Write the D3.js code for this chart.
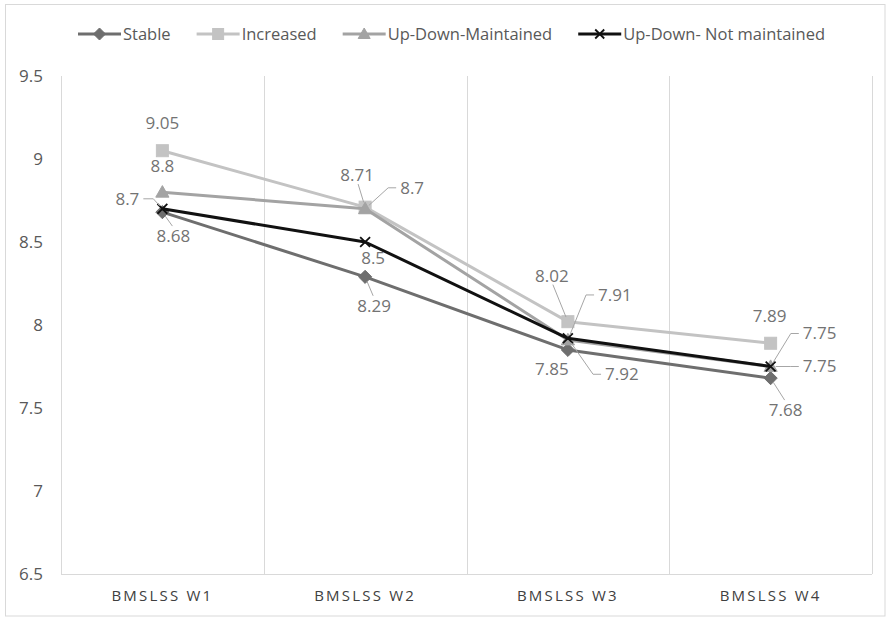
<!DOCTYPE html>
<html>
<head>
<meta charset="utf-8">
<script src="https://cdn.jsdelivr.net/npm/d3@7"></script>
<style>
  html, body { margin: 0; padding: 0; background: #fff; }
  svg { display: block; }
  text { font-family: "Open Sans", "DejaVu Sans", sans-serif; }
</style>
</head>
<body>
<svg id="chart" width="891" height="619"></svg>
<script>
// Waves of the BMSLSS survey
const categories = ["BMSLSS W1", "BMSLSS W2", "BMSLSS W3", "BMSLSS W4"];

// Mean scores per trajectory group
const stable = [8.68, 8.29, 7.85, 7.68];
const increased = [9.05, 8.71, 8.02, 7.89];
const upDownMaintained = [8.8, 8.7, 7.91, 7.75];
const upDownNotMaintained = [8.7, 8.5, 7.92, 7.75];

const seriesNames = ["Stable", "Increased", "Up-Down-Maintained", "Up-Down- Not maintained"];
const yTicks = [6.5, 7, 7.5, 8, 8.5, 9, 9.5];

// Appearance of each group: line colour and marker shape
const styles = [
  { color: "#6e6e6e", marker: "diamond" },
  { color: "#c3c3c3", marker: "square" },
  { color: "#a3a3a3", marker: "triangle" },
  { color: "#111111", marker: "cross" }
];

// Where each value label sits relative to its point, and how it is tied back
const labelPlacement = [
  [{dx: 11, dy: 24, leader: "v"}, {dx: 9, dy: 29, leader: "v"}, {dx: -16, dy: 19, leader: "none"}, {dx: 15, dy: 32, leader: "v"}],
  [{dx: 0, dy: -28, leader: "none"}, {dx: -8, dy: -32, leader: "v"}, {dx: -16, dy: -46, leader: "v"}, {dx: -1, dy: -27, leader: "none"}],
  [{dx: 0, dy: -26, leader: "none"}, {dx: 47, dy: -21, leader: "elbow"}, {dx: 47, dy: -45, leader: "elbow"}, {dx: 49, dy: -33, leader: "elbow"}],
  [{dx: -35, dy: -10, leader: "elbowR"}, {dx: 8, dy: 16, leader: "none"}, {dx: 54, dy: 36, leader: "elbow"}, {dx: 49, dy: 0, leader: "elbow"}]
];

const seriesValues = [stable, increased, upDownMaintained, upDownNotMaintained];
const series = seriesNames.map((name, i) => ({
  name, values: seriesValues[i], style: styles[i], place: labelPlacement[i]
}));

const svg = d3.select("#chart");
const W = 891, H = 619;
const plot = { left: 61, right: 872, top: 76, bottom: 574 };

// Outer chart frame
svg.append("rect")
  .attr("x", 5.5).attr("y", 4.5).attr("width", W - 6.5 - 5).attr("height", H - 3 - 4.5)
  .attr("fill", "#fff").attr("stroke", "#d9d9d9").attr("stroke-width", 1);

const x = d3.scaleBand().domain(categories).range([plot.left, plot.right]).padding(0);
const y = d3.scaleLinear().domain([6.5, 9.5]).range([plot.bottom, plot.top]);
const cx = c => x(c) + x.bandwidth() / 2;

// Vertical category separators
const gridX = categories.map(c => x(c)).concat([x(categories[categories.length - 1]) + x.bandwidth()]);
svg.append("g").selectAll("line").data(gridX).join("line")
  .attr("x1", d => Math.round(d) + 0.5).attr("x2", d => Math.round(d) + 0.5)
  .attr("y1", plot.top).attr("y2", plot.bottom)
  .attr("stroke", "#d9d9d9").attr("stroke-width", 1);

// Y axis labels
const yAxis = svg.append("g").attr("transform", `translate(${plot.left},0)`)
  .call(d3.axisLeft(y).tickValues(yTicks).tickSize(0).tickPadding(18).tickFormat(d => String(d)));
yAxis.select(".domain").remove();
yAxis.selectAll("text").attr("font-size", 17).attr("fill", "#595959")
  .attr("font-family", "'Open Sans', sans-serif");

// X axis with baseline
const xAxis = svg.append("g").attr("transform", `translate(0,${plot.bottom})`)
  .call(d3.axisBottom(x).tickSize(0).tickPadding(16));
xAxis.select(".domain").attr("stroke", "#d9d9d9").attr("d", `M${plot.left},0.5H${plot.right}`);
xAxis.selectAll("text").attr("font-size", 15).attr("fill", "#404040")
  .attr("letter-spacing", "2.2px").attr("font-family", "'Open Sans', sans-serif");

// Marker drawing
function drawMarker(g, type, color, size) {
  const s = size;
  if (type === "diamond") {
    g.append("path").attr("d", `M0,${-s*0.6}L${s*0.6},0L0,${s*0.6}L${-s*0.6},0Z`)
      .attr("fill", color).attr("stroke", color).attr("stroke-width", 1);
  } else if (type === "square") {
    g.append("rect").attr("x", -s/2).attr("y", -s/2).attr("width", s).attr("height", s)
      .attr("fill", color).attr("stroke", color);
  } else if (type === "triangle") {
    g.append("path").attr("d", `M0,${-s*0.6}L${s*0.6},${s*0.45}L${-s*0.6},${s*0.45}Z`)
      .attr("fill", color).attr("stroke", color);
  } else if (type === "cross") {
    const h = s * 0.45;
    g.append("path").attr("d", `M${-h},${-h}L${h},${h}M${-h},${h}L${h},${-h}`)
      .attr("stroke", color).attr("stroke-width", 1.8).attr("fill", "none");
  }
}

const line = d3.line().x(d => cx(d.cat)).y(d => y(d.v));

// Lines and markers
series.forEach(s => {
  const pts = s.values.map((v, i) => ({ cat: categories[i], v }));
  svg.append("path").datum(pts).attr("d", line)
    .attr("fill", "none").attr("stroke", s.style.color).attr("stroke-width", 3)
    .attr("stroke-linejoin", "round");
  pts.forEach(p => {
    const g = svg.append("g").attr("transform", `translate(${cx(p.cat)},${y(p.v)})`);
    drawMarker(g, s.style.marker, s.style.color, s.style.marker === "square" ? 12 : 11);
  });
});

// Value labels with leader lines
const labelLayer = svg.append("g");
series.forEach(s => {
  s.values.forEach((v, i) => {
    const px = cx(categories[i]), py = y(v);
    const pl = s.place[i];
    const lx = px + pl.dx, ly = py + pl.dy;
    const t = labelLayer.append("text")
      .attr("x", lx).attr("y", ly).attr("dy", "0.35em")
      .attr("text-anchor", "middle").attr("font-size", 17).attr("fill", "#737373")
      .text(String(v));
    const bb = t.node().getBBox();
    let d = null;
    if (pl.leader === "v") {
      const ey = pl.dy > 0 ? bb.y + 2 : bb.y + bb.height - 2;
      const sx = lx + (pl.dx > 0 ? -1 : 1);
      const ang = Math.atan2(py - ey, px - sx);
      const len = Math.hypot(px - sx, py - ey) - 5;
      d = `M${sx},${ey}L${sx + Math.cos(ang) * len},${ey + Math.sin(ang) * len}`;
    } else if (pl.leader === "elbow") {
      const sx = bb.x - 4, sy = ly;
      const kx = sx - 8;
      const ang = Math.atan2(py - sy, px - kx);
      const len = Math.max(0, Math.hypot(px - kx, py - sy) - 5);
      d = `M${sx},${sy}L${kx},${sy}L${kx + Math.cos(ang) * len},${sy + Math.sin(ang) * len}`;
    } else if (pl.leader === "elbowR") {
      const sx = bb.x + bb.width + 4, sy = ly;
      const kx = sx + 10;
      const ang = Math.atan2(py - sy, px - kx);
      const len = Math.max(0, Math.hypot(px - kx, py - sy) - 4);
      d = `M${sx},${sy}L${kx},${sy}L${kx + Math.cos(ang) * len},${sy + Math.sin(ang) * len}`;
    }
    if (d) {
      labelLayer.insert("path", ":first-child").attr("d", d)
        .attr("fill", "none").attr("stroke", "#a6a6a6").attr("stroke-width", 1);
    }
  });
});

// Legend across the top
const legend = svg.append("g");
let lx0 = 78;
const ly0 = 34;
series.forEach(s => {
  const g = legend.append("g").attr("transform", `translate(${lx0},${ly0})`);
  g.append("line").attr("x1", 0).attr("x2", 43).attr("y1", 0).attr("y2", 0)
    .attr("stroke", s.style.color).attr("stroke-width", 3);
  const m = g.append("g").attr("transform", "translate(21.5,0)");
  drawMarker(m, s.style.marker, s.style.color, s.style.marker === "square" ? 11 : 10);
  const t = g.append("text").attr("x", 45).attr("y", 0).attr("dy", "0.35em")
    .attr("font-size", 16.5).attr("fill", "#595959").text(s.name);
  lx0 += 45 + t.node().getComputedTextLength() + 26;
});
</script>
</body>
</html>
